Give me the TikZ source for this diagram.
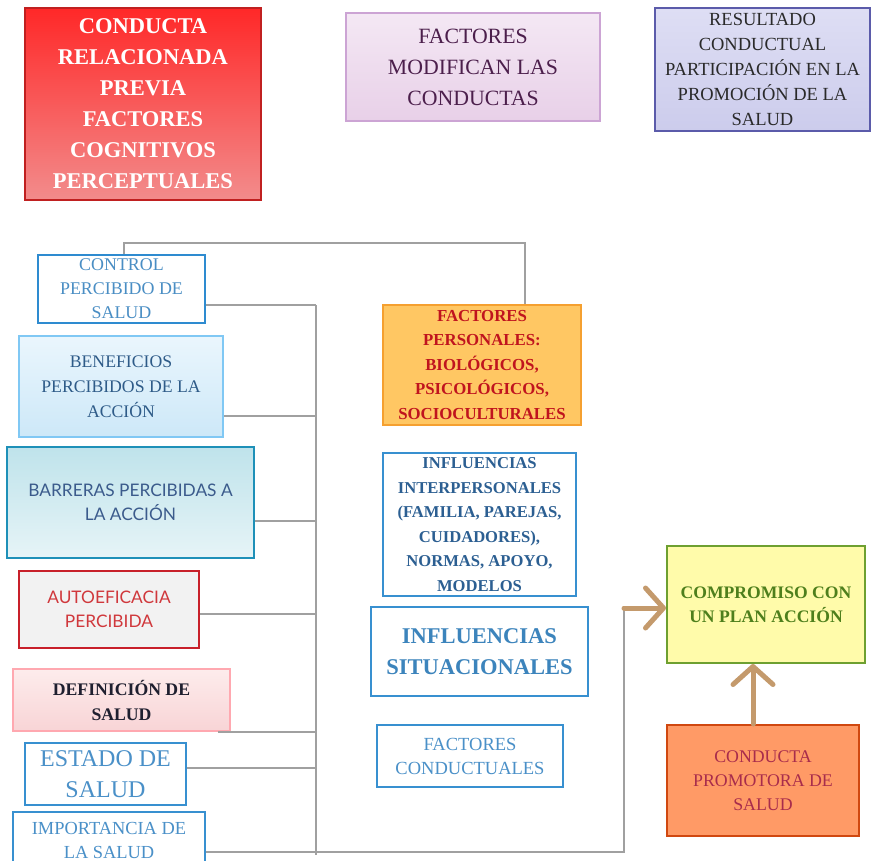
\documentclass[tikz,border=0pt]{standalone}
\usepackage{fontspec}
\setmainfont{Liberation Serif}
\newfontfamily\latofont{Lato}
\usetikzlibrary{arrows.meta}
\definecolor{lineGray}{HTML}{A0A0A0}
\definecolor{arrowBrown}{HTML}{C49A6C}
\newcommand\fsz[2]{\fontsize{#1}{#2}\selectfont}
\begin{document}
\begin{tikzpicture}[x=1pt,y=-1pt,
  box/.style={draw, line width=2pt, rectangle, inner sep=0pt, align=center},
  conn/.style={draw=lineGray, line width=2pt},
  brarrow/.style={draw=arrowBrown, line width=5pt, line cap=round,
    -{Straight Barb[length=18pt,width=40pt,round]}}]
\useasboundingbox (0,0) rectangle (872,861);
\fill[white] (0,0) rectangle (872,861);
\clip (0,0) rectangle (872,861);

% top row
\node[box, draw={rgb,255:red,192;green,32;blue,32}, top color={rgb,255:red,255;green,40;blue,40}, bottom color={rgb,255:red,242;green,140;blue,140},
  minimum width=236, minimum height=192, text=white, font=\bfseries\fsz{22.5}{31}] (crp) at (143,104)
  {CONDUCTA\\RELACIONADA\\PREVIA\\FACTORES\\COGNITIVOS\\PERCEPTUALES};
\node[box, draw={rgb,255:red,204;green,164;blue,212}, top color={rgb,255:red,244;green,232;blue,244}, bottom color={rgb,255:red,232;green,208;blue,232},
  minimum width=254, minimum height=108, text={rgb,255:red,76;green,31;blue,76}, font=\fsz{21.8}{31}] (fmc) at (473,67)
  {FACTORES\\MODIFICAN LAS\\CONDUCTAS};
\node[box, draw={rgb,255:red,91;green,91;blue,170}, top color={rgb,255:red,222;green,222;blue,244}, bottom color={rgb,255:red,204;green,204;blue,236},
  minimum width=215, minimum height=123, text={rgb,255:red,42;green,42;blue,42}, font=\fsz{18.5}{25}] (res) at (762.5,69.5)
  {RESULTADO\\CONDUCTUAL\\PARTICIPACIÓN EN LA\\PROMOCIÓN DE LA\\SALUD};

% left column
\node[box, draw={rgb,255:red,46;green,139;blue,208}, fill=white,
  minimum width=167, minimum height=68, text={rgb,255:red,74;green,142;blue,196}, font=\fsz{17.9}{24}] (ctrl) at (121.5,289)
  {CONTROL\\PERCIBIDO DE\\SALUD};
\node[box, draw={rgb,255:red,128;green,200;blue,244}, top color={rgb,255:red,234;green,246;blue,253}, bottom color={rgb,255:red,205;green,232;blue,248},
  minimum width=204, minimum height=101, text={rgb,255:red,46;green,91;blue,136}, font=\fsz{17.7}{25}] (ben) at (121,386.5)
  {BENEFICIOS\\PERCIBIDOS DE LA\\ACCIÓN};
\node[box, draw={rgb,255:red,30;green,144;blue,184}, top color={rgb,255:red,191;green,227;blue,235}, bottom color={rgb,255:red,230;green,244;blue,247},
  minimum width=247, minimum height=111, text={rgb,255:red,59;green,91;blue,140}, font=\latofont\fsz{17.3}{24}] (bar) at (130.5,502.5)
  {BARRERAS PERCIBIDAS A\\LA ACCIÓN};
\node[box, draw={rgb,255:red,200;green,32;blue,42}, fill={rgb,255:red,242;green,242;blue,242},
  minimum width=180, minimum height=77, text={rgb,255:red,208;green,56;blue,60}, font=\latofont\fsz{17.3}{24}] (aut) at (109,609.5)
  {AUTOEFICACIA\\PERCIBIDA};
\node[box, draw={rgb,255:red,255;green,168;blue,176}, top color={rgb,255:red,253;green,236;blue,236}, bottom color={rgb,255:red,248;green,212;blue,214},
  minimum width=217, minimum height=62, text={rgb,255:red,31;green,31;blue,47}, font=\bfseries\fsz{17.7}{25}] (def) at (121.5,700)
  {DEFINICIÓN DE\\SALUD};
\node[box, draw={rgb,255:red,56;green,144;blue,208}, fill=white,
  minimum width=161, minimum height=62, text={rgb,255:red,74;green,144;blue,200}, font=\fsz{24}{31}] (est) at (105.5,774)
  {ESTADO DE\\SALUD};
\node[box, draw={rgb,255:red,56;green,144;blue,208}, fill=white,
  minimum width=192, minimum height=56, text={rgb,255:red,74;green,144;blue,200}, font=\fsz{18.4}{24}] (imp) at (109,840)
  {IMPORTANCIA DE\\LA SALUD};

% middle column
\node[box, draw={rgb,255:red,245;green,160;blue,48}, fill={rgb,255:red,255;green,199;blue,99},
  minimum width=198, minimum height=120, text={rgb,255:red,192;green,20;blue,30}, font=\bfseries\fsz{16.8}{24.5}] (fp) at (482,365)
  {FACTORES\\PERSONALES:\\BIOLÓGICOS,\\PSICOLÓGICOS,\\SOCIOCULTURALES};
\node[box, draw={rgb,255:red,56;green,144;blue,208}, fill=white,
  minimum width=193, minimum height=143, text={rgb,255:red,44;green,95;blue,146}, font=\bfseries\fsz{16.6}{24.6}] (inf) at (479.5,524.5)
  {INFLUENCIAS\\INTERPERSONALES\\(FAMILIA, PAREJAS,\\CUIDADORES),\\NORMAS, APOYO,\\MODELOS};
\node[box, draw={rgb,255:red,56;green,144;blue,208}, fill=white,
  minimum width=217, minimum height=89, text={rgb,255:red,60;green,132;blue,188}, font=\bfseries\fsz{22.5}{31}] (sit) at (479.5,651.5)
  {INFLUENCIAS\\SITUACIONALES};
\node[box, draw={rgb,255:red,56;green,144;blue,208}, fill=white,
  minimum width=186, minimum height=62, text={rgb,255:red,74;green,144;blue,200}, font=\fsz{18.5}{24}] (fcd) at (470,756)
  {FACTORES\\CONDUCTUALES};

% right column
\node[box, draw={rgb,255:red,110;green,160;blue,48}, fill={rgb,255:red,255;green,251;blue,170},
  minimum width=198, minimum height=117, text={rgb,255:red,78;green,127;blue,28}, font=\bfseries\fsz{17.6}{24}] (comp) at (766,604.5)
  {COMPROMISO CON\\UN PLAN ACCIÓN};
\node[box, draw={rgb,255:red,208;green,72;blue,16}, fill={rgb,255:red,255;green,154;blue,102},
  minimum width=192, minimum height=111, text={rgb,255:red,168;green,44;blue,76}, font=\fsz{17.8}{24}] (cpr) at (763,780.5)
  {CONDUCTA\\PROMOTORA DE\\SALUD};

% connectors
\coordinate (vtop) at (316,305);
\coordinate (vbot) at (316,855);
\coordinate (topr) at (525,243);
\coordinate (bend) at (624,852);
\coordinate (corner) at (624,608);

\draw[conn] ([xshift=2.5pt]ctrl.north) |- (topr) -- (topr |- fp.north);
\draw[conn] (vtop) -- (vbot);
\draw[conn] ([yshift=-16pt]ctrl.east) -- ([yshift=-16pt]ctrl.east -| vtop);
\draw[conn] ([yshift=-29.5pt]ben.east) -- ([yshift=-29.5pt]ben.east -| vtop);
\draw[conn] ([yshift=-18.5pt]bar.east) -- ([yshift=-18.5pt]bar.east -| vtop);
\draw[conn] ([yshift=-4.5pt]aut.east) -- ([yshift=-4.5pt]aut.east -| vtop);
\draw[conn] ([xshift=-13pt]def.south east) -- (def.south east -| vtop);
\draw[conn] ([yshift=6pt]est.east) -- ([yshift=6pt]est.east -| vtop);
\draw[conn] ([yshift=-12pt]imp.east) -- (bend) -- (corner);
\draw[brarrow] (corner) -- (corner -| comp.west);
\draw[brarrow] ([xshift=-10pt]cpr.north) -- ([xshift=-10pt]cpr.north |- comp.south);
\end{tikzpicture}
\end{document}
